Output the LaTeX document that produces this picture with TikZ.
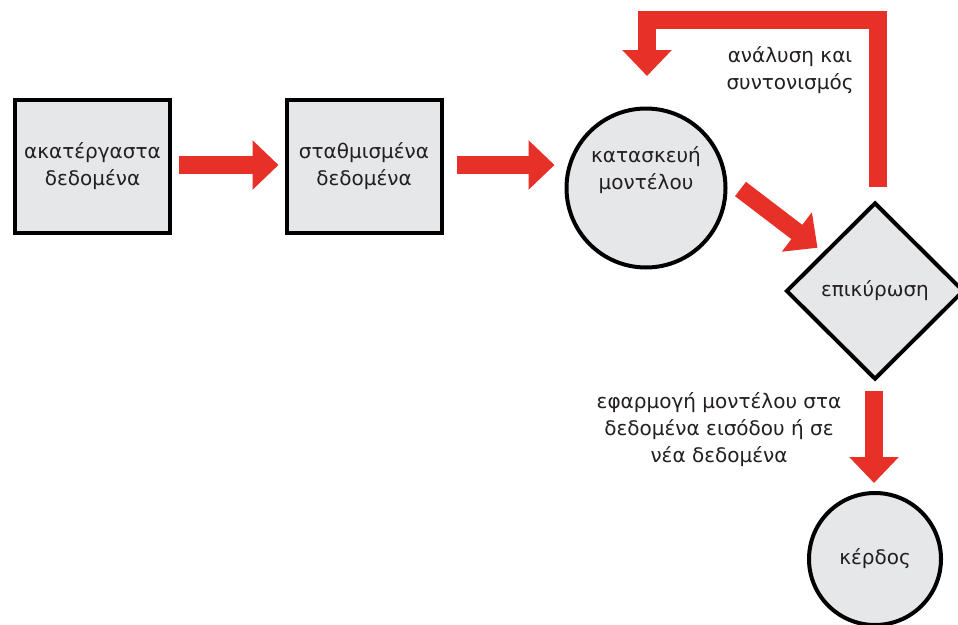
\documentclass[tikz,border=0pt]{standalone}
\usepackage{fontspec}
\setmainfont{DejaVu Sans}
\usetikzlibrary{arrows.meta,shapes.geometric,calc}
\definecolor{arrred}{RGB}{231,49,40}
\definecolor{boxgray}{RGB}{230,231,232}
\definecolor{txt}{RGB}{35,31,32}
\tikzset{
  lbl/.style={font=\fontsize{20}{27}\selectfont, text=txt, align=center},
  boxnode/.style={draw=black, line width=4pt, fill=boxgray, inner sep=0pt,
    minimum width=155pt, minimum height=133pt, lbl},
  circnode/.style={circle, draw=black, line width=4pt, fill=boxgray, inner sep=0pt, lbl},
  diamnode/.style={diamond, draw=black, line width=4pt, fill=boxgray, inner sep=0pt,
    minimum width=178pt, minimum height=177pt, lbl},
  redarrow/.style={draw=arrred, line width=18pt, line join=miter,
    -{Triangle[length=26pt,width=48pt]}}
}
\begin{document}
\begin{tikzpicture}[x=1pt,y=-1pt]
\useasboundingbox[fill=white] (0,0) rectangle (958,624);
\node[boxnode] (b1) at (92.5,166.5) {ακατέργαστα\\δεδομένα};
\node[boxnode] (b2) at (364,166.5) {σταθμισμένα\\δεδομένα};
\node[circnode, minimum size=159pt,
  label={[lbl, yshift=18pt]center:κατασκευή\\μοντέλου}] (c1) at (646,188) {};
\node[diamnode] (d) at (875,291) {επικύρωση};
\node[circnode, minimum size=132pt] (k) at (875,559) {κέρδος};

\draw[redarrow] ($(b1.east)+(7,-1.5)$) -- ($(b2.west)+(-6,-1.5)$);
\draw[redarrow] ($(b2.east)+(13,-1.5)$) -- ($(b2.east -| c1.west)+(-10,-1.5)$);
\draw[redarrow] ($(c1.east)+(13,1)$) -- ($(d.north west)+(-12,2)$);
\draw[redarrow] ($(d.north)+(3,-14)$) -- ($(d.north)+(3,-180.5)$)
  -- ($(c1.north)+(1,-86.5)$) -- ($(c1.north)+(1,-30.5)$);
\draw[redarrow] ($(d.south)+(-1,9)$) -- ($(k.north)+(-1,-8)$);

\node[lbl] (t1) at (790,70) {ανάλυση και\\συντονισμός};
\node[lbl] (t2) at (719,430) {εφαρμογή μοντέλου στα\\δεδομένα εισόδου ή σε\\νέα δεδομένα};
\end{tikzpicture}
\end{document}
